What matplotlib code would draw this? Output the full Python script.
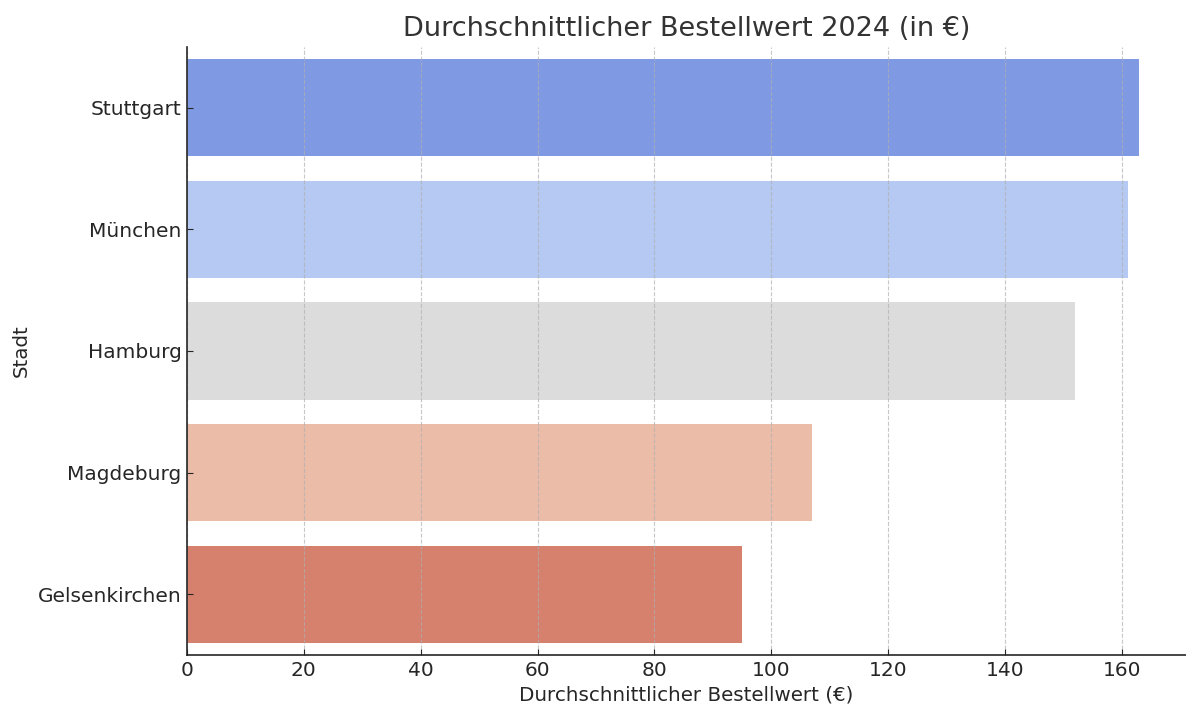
import matplotlib.pyplot as plt

cities = ["Stuttgart", "München", "Hamburg", "Magdeburg", "Gelsenkirchen"]
values = [163, 161, 152, 107, 95]
colors = ["#8099e3", "#b5c9f2", "#dcdcdc", "#ebbca8", "#d6806e"]


def main():
    fig = plt.figure(figsize=(11.86, 7.05), dpi=100)
    ax = fig.add_axes([187 / 1186, 1 - 655 / 705, 1 - 187 / 1186, 608 / 705])

    ypos = list(range(len(cities)))
    ax.barh(ypos, values, height=0.8, color=colors, zorder=1)
    ax.set_yticks(ypos)
    ax.set_yticklabels(cities, fontsize=14.5, color="#262626")
    ax.set_ylim(len(cities) - 0.5, -0.5)
    ax.set_xlim(0, 171)
    ax.set_xticks(range(0, 161, 20))
    ax.tick_params(axis="x", labelsize=14.5, colors="#262626", direction="in", length=4, pad=4)
    ax.tick_params(axis="y", colors="#262626", direction="in", length=4, pad=4)

    ax.grid(True, axis="x", linestyle="--", color="#b0b0b0", alpha=0.7, linewidth=0.8)
    ax.set_axisbelow(False)

    for side in ("top", "right"):
        ax.spines[side].set_visible(False)
    for side in ("left", "bottom"):
        ax.spines[side].set_color("#262626")
        ax.spines[side].set_linewidth(1.2)
        ax.spines[side].set_zorder(5)

    ax.set_title("Durchschnittlicher Bestellwert 2024 (in €)", fontsize=19.5, color="#333333", pad=8)
    ax.set_xlabel("Durchschnittlicher Bestellwert (€)", fontsize=14.3, color="#262626", labelpad=4)
    ax.set_ylabel("Stadt", fontsize=14.3, color="#262626", labelpad=5)

    fig.savefig("out.png", dpi=100)


if __name__ == "__main__":
    main()
